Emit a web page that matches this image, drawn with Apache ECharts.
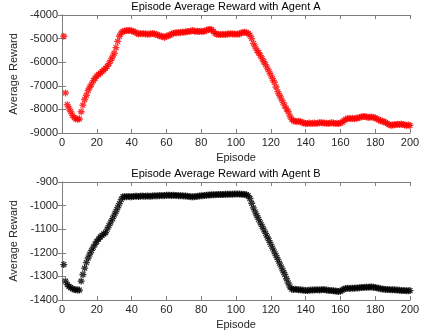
<!DOCTYPE html>
<html>
<head>
<meta charset="utf-8">
<script src="https://cdn.jsdelivr.net/npm/echarts@6/dist/echarts.min.js"></script>
<style>
  html, body { margin: 0; padding: 0; background: #fff; }
  #chart { width: 423px; height: 334px; }
</style>
</head>
<body>
<div id="chart"></div>
<script>
// episode average reward, one value per episode (1..200)
const rewardA = [
  -4900, -7300, -7800, -7950, -8100, -8250, -8350, -8400, -8420, -8400,
  -8100, -7820, -7580, -7400, -7200, -7050, -6930, -6780, -6680, -6580,
  -6520, -6460, -6400, -6330, -6260, -6180, -6060, -5920, -5780, -5620,
  -5380, -5120, -4900, -4760, -4700, -4680, -4660, -4660, -4650, -4670,
  -4700, -4720, -4780, -4800, -4780, -4800, -4780, -4800, -4820, -4800,
  -4800, -4780, -4800, -4820, -4850, -4880, -4900, -4920, -4950, -4900,
  -4880, -4850, -4800, -4780, -4750, -4760, -4740, -4750, -4720, -4730,
  -4720, -4700, -4700, -4680, -4660, -4680, -4700, -4690, -4700, -4690,
  -4700, -4680, -4650, -4620, -4600, -4620, -4700, -4780, -4820, -4830,
  -4830, -4820, -4820, -4830, -4810, -4800, -4790, -4800, -4810, -4820,
  -4810, -4800, -4760, -4740, -4730, -4750, -4780, -4850, -5000, -5200,
  -5350, -5500, -5600, -5720, -5850, -5980, -6100, -6250, -6400, -6550,
  -6700, -6850, -7050, -7250, -7400, -7550, -7700, -7850, -7980, -8100,
  -8280, -8420, -8480, -8500, -8520, -8500, -8520, -8550, -8580, -8600,
  -8600, -8580, -8600, -8590, -8580, -8600, -8580, -8570, -8560, -8580,
  -8580, -8590, -8600, -8580, -8570, -8580, -8600, -8590, -8600, -8580,
  -8540, -8480, -8420, -8400, -8380, -8400, -8380, -8400, -8380, -8360,
  -8340, -8320, -8300, -8300, -8320, -8340, -8330, -8320, -8340, -8360,
  -8400, -8440, -8480, -8500, -8520, -8560, -8600, -8640, -8680, -8660,
  -8650, -8640, -8630, -8640, -8620, -8640, -8660, -8680, -8660, -8680
]

const rewardB = [
  -1250, -1320, -1335, -1342, -1348, -1352, -1355, -1357, -1358, -1358,
  -1320, -1292, -1265, -1242, -1222, -1205, -1190, -1176, -1163, -1152,
  -1142, -1133, -1126, -1120, -1115, -1100, -1085, -1070, -1055, -1040,
  -1025, -1008, -992, -975, -962, -962, -962, -961, -962, -962,
  -961, -960, -960, -961, -960, -959, -960, -960, -959, -960,
  -960, -959, -958, -959, -958, -958, -957, -958, -957, -956,
  -956, -956, -957, -956, -957, -957, -958, -958, -958, -959,
  -959, -960, -961, -962, -963, -962, -961, -960, -959, -958,
  -958, -957, -956, -955, -955, -954, -954, -954, -953, -953,
  -953, -953, -953, -952, -952, -952, -952, -952, -951, -951,
  -951, -951, -952, -952, -953, -954, -958, -970, -990, -1010,
  -1027, -1043, -1058, -1073, -1088, -1103, -1118, -1133, -1148, -1164,
  -1180, -1196, -1212, -1228, -1244, -1260, -1276, -1292, -1310, -1328,
  -1345, -1354, -1355, -1354, -1356, -1357, -1357, -1358, -1359, -1360,
  -1360, -1359, -1358, -1358, -1358, -1357, -1357, -1358, -1357, -1356,
  -1357, -1358, -1359, -1360, -1360, -1361, -1362, -1363, -1364, -1363,
  -1358, -1354, -1351, -1350, -1351, -1350, -1350, -1350, -1349, -1349,
  -1348, -1347, -1347, -1346, -1346, -1346, -1345, -1345, -1346, -1347,
  -1349, -1350, -1352, -1353, -1354, -1355, -1356, -1356, -1357, -1357,
  -1357, -1358, -1358, -1359, -1360, -1360, -1360, -1361, -1361, -1360
]

const titles = ['Episode Average Reward with Agent A', 'Episode Average Reward with Agent B']
const yRanges = [[-9000, -4000, 1000], [-1400, -900, 100]]

const axisGray = '#7f7f7f'
const labelColor = '#262626'
const font = 'Arial, "Liberation Sans", Helvetica, sans-serif'
const asterisk = 'path://M5,0L5,10M0,5L10,5M1.5,1.5L8.5,8.5M1.5,8.5L8.5,1.5'

const toPoints = (arr) => arr.map((v, i) => [i + 1, v])

const chart = echarts.init(document.getElementById('chart'), null, { renderer: 'canvas' })

const grids = [
  { left: 42, right: 13, top: 15, height: 118 },
  { left: 42, right: 13, top: 182, height: 118 }
]

const xAxes = []
const yAxes = []
grids.forEach((g, i) => {
  // bottom x axis with labels
  xAxes.push({
    gridIndex: i, type: 'value', min: 0, max: 200, interval: 20,
    name: 'Episode', nameLocation: 'middle', nameGap: 19,
    nameTextStyle: { color: labelColor, fontSize: 11, fontFamily: font },
    axisLine: { lineStyle: { color: axisGray } },
    axisTick: { inside: true, length: 4, lineStyle: { color: axisGray } },
    axisLabel: { color: labelColor, fontSize: 11, fontFamily: font, margin: 4 },
    splitLine: { show: false }
  })
  // top mirror
  xAxes.push({
    gridIndex: i, type: 'value', position: 'top', min: 0, max: 200, interval: 20,
    axisLine: { lineStyle: { color: axisGray } },
    axisTick: { inside: true, length: 4, lineStyle: { color: axisGray } },
    axisLabel: { show: false },
    splitLine: { show: false }
  })
  const [mn, mx, step] = yRanges[i]
  yAxes.push({
    gridIndex: i, type: 'value', min: mn, max: mx, interval: step,
    name: 'Average Reward', nameLocation: 'middle', nameGap: 33,
    nameTextStyle: { color: labelColor, fontSize: 11, fontFamily: font },
    axisLine: { show: true, lineStyle: { color: axisGray } },
    axisTick: { show: true, inside: true, length: 4, lineStyle: { color: axisGray } },
    axisLabel: { color: labelColor, fontSize: 11, fontFamily: font, margin: 4, formatter: (v) => String(v) },
    splitLine: { show: false }
  })
  yAxes.push({
    gridIndex: i, type: 'value', position: 'right', min: mn, max: mx, interval: step,
    axisLine: { show: true, lineStyle: { color: axisGray } },
    axisTick: { show: true, inside: true, length: 4, lineStyle: { color: axisGray } },
    axisLabel: { show: false },
    splitLine: { show: false }
  })
})

const option = {
  animation: false,
  backgroundColor: '#fff',
  title: titles.map((t, i) => ({
    text: t,
    left: 226,
    textAlign: 'center',
    top: i === 0 ? 1 : 168,
    padding: 0,
    textStyle: { color: '#000', fontSize: 11, fontWeight: 'normal', fontFamily: font }
  })),
  grid: grids,
  xAxis: xAxes,
  yAxis: yAxes,
  series: [
    {
      type: 'scatter', xAxisIndex: 0, yAxisIndex: 0,
      data: toPoints(rewardA),
      symbol: asterisk, symbolSize: 7,
      itemStyle: { color: 'rgba(0,0,0,0)', borderColor: '#ff0000', borderWidth: 1.3 }
    },
    {
      type: 'scatter', xAxisIndex: 2, yAxisIndex: 2,
      data: toPoints(rewardB),
      symbol: asterisk, symbolSize: 7,
      itemStyle: { color: 'rgba(0,0,0,0)', borderColor: '#000000', borderWidth: 1.3 }
    }
  ]
}

chart.setOption(option)
</script>
</body>
</html>
